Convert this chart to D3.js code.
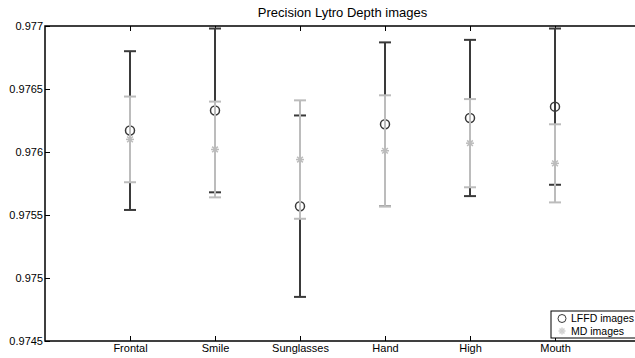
<!DOCTYPE html>
<html>
<head>
<meta charset="utf-8">
<script src="https://cdn.jsdelivr.net/npm/d3@7"></script>
<style>
body { margin: 0; background: #fff; }
text { font-family: "Liberation Sans", Arial, sans-serif; }
</style>
</head>
<body>
<script>
// data
var categories = ["Frontal", "Smile", "Sunglasses", "Hand", "High", "Mouth"]
var lffd_mean = [0.97617, 0.97633, 0.97557, 0.97622, 0.97627, 0.97636]
var lffd_err = [0.00063, 0.00065, 0.00072, 0.00065, 0.00062, 0.00062]
var md_mean = [0.97610, 0.97602, 0.97594, 0.97601, 0.97607, 0.97591]
var md_err = [0.00034, 0.00038, 0.00047, 0.00044, 0.00035, 0.00031]
var y_ticks = [0.9745, 0.975, 0.9755, 0.976, 0.9765, 0.977]
var series_names = ["LFFD images", "MD images"]

var w = 635, h = 358
var margin = {left: 45, right: -5, top: 26, bottom: 17}
var dark = "#3a3a3a", light = "#bcbcbc"

var svg = d3.select("body").append("svg")
.attr("width", w)
.attr("height", h)

var x = d3.scaleLinear()
.domain([0, categories.length + 1])
.range([margin.left, w - margin.right])
var y = d3.scaleLinear()
.domain([0.9745, 0.977])
.range([h - margin.bottom, margin.top])

// axes box
svg.append("rect")
.attr("x", x(0))
.attr("y", y(0.977))
.attr("width", x(7) - x(0))
.attr("height", y(0.9745) - y(0.977))
.attr("fill", "none")
.attr("stroke", "#000")
.attr("stroke-width", 1.5)

var xb = svg.append("g")
.attr("transform", "translate(0," + y(0.9745) + ")")
.call(d3.axisBottom(x).tickValues(d3.range(1, 7)).tickSize(-5).tickPadding(4)
.tickFormat(function(d) { return categories[d - 1] }))
var xt = svg.append("g")
.attr("transform", "translate(0," + y(0.977) + ")")
.call(d3.axisTop(x).tickValues(d3.range(1, 7)).tickSize(-5).tickFormat(""))
var yl = svg.append("g")
.attr("transform", "translate(" + x(0) + ",0)")
.call(d3.axisLeft(y).tickValues(y_ticks).tickSize(-5).tickPadding(2)
.tickFormat(function(d) { return String(+d.toFixed(4)) }))
var yr = svg.append("g")
.attr("transform", "translate(" + x(7) + ",0)")
.call(d3.axisRight(y).tickValues(y_ticks).tickSize(-5).tickFormat(""))
;[xb, xt, yl, yr].forEach(function(g) {
g.select(".domain").remove()
g.selectAll("line").attr("stroke", "#000")
g.selectAll("text").attr("fill", "#000").style("font-size", "11px")
})
yl.selectAll("text").attr("dy", "0.35em")
xb.selectAll("text").attr("dy", "0.6em")

// error bars
function draw_bars(mean, err, color)
{
var g = svg.append("g")
mean.forEach(function(m, i) {
var cx = x(i + 1)
g.append("line")
.attr("x1", cx).attr("x2", cx)
.attr("y1", y(m - err[i])).attr("y2", y(m + err[i]))
.attr("stroke", color).attr("stroke-width", 2)
;[m - err[i], m + err[i]].forEach(function(v) {
g.append("line")
.attr("x1", cx - 6).attr("x2", cx + 6)
.attr("y1", y(v)).attr("y2", y(v))
.attr("stroke", color).attr("stroke-width", 2)
})
})
}

function star(g, cx, cy, r, color)
{
for (var a = 0; a < 4; a++) {
var t = a * Math.PI / 4
g.append("line")
.attr("x1", cx - r * Math.cos(t)).attr("x2", cx + r * Math.cos(t))
.attr("y1", cy - r * Math.sin(t)).attr("y2", cy + r * Math.sin(t))
.attr("stroke", color).attr("stroke-width", 1.5)
}
}

draw_bars(lffd_mean, lffd_err, dark)
lffd_mean.forEach(function(m, i) {
svg.append("circle")
.attr("cx", x(i + 1)).attr("cy", y(m)).attr("r", 4.5)
.attr("fill", "none").attr("stroke", dark).attr("stroke-width", 1.5)
})
draw_bars(md_mean, md_err, light)
var stars = svg.append("g")
md_mean.forEach(function(m, i) {
star(stars, x(i + 1), y(m), 4, light)
})

// title
svg.append("text")
.attr("x", (x(0) + x(7)) / 2)
.attr("y", 17)
.attr("text-anchor", "middle")
.style("font-size", "13px")
.text("Precision Lytro Depth images")

// legend
var leg = svg.append("g")
leg.append("rect")
.attr("x", 551).attr("y", 311)
.attr("width", 90).attr("height", 27)
.attr("fill", "#fff").attr("stroke", "#000").attr("stroke-width", 1)
leg.append("circle")
.attr("cx", 562).attr("cy", 318.5).attr("r", 4)
.attr("fill", "none").attr("stroke", dark).attr("stroke-width", 1)
star(leg, 562, 331, 3.5, "#d0d0d0")
series_names.forEach(function(s, i) {
leg.append("text")
.attr("x", 571).attr("y", 318.5 + i * 12.5)
.attr("dy", "0.35em")
.style("font-size", "10.5px")
.text(s)
})
</script>
</body>
</html>
